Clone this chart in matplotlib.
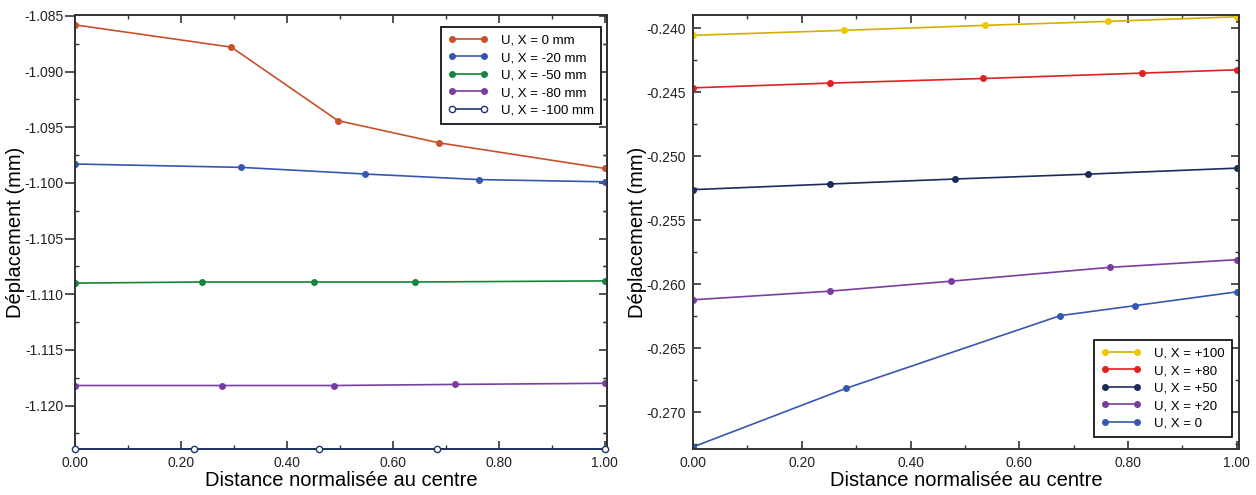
import numpy as np
import matplotlib
matplotlib.use("Agg")
import matplotlib.pyplot as plt
from matplotlib.ticker import MultipleLocator, FormatStrFormatter

plt.rcParams['font.family'] = ['Liberation Sans', 'DejaVu Sans']

# left panel : U for X <= 0
x_l0 = [0.0, 0.295, 0.496, 0.687, 1.0]
u_l0 = [-1.0858, -1.0878, -1.0944, -1.0964, -1.0987]
x_l20 = [0.0, 0.3125, 0.548, 0.763, 1.0]
u_l20 = [-1.0983, -1.0986, -1.0992, -1.0997, -1.0999]
x_l50 = [0.0, 0.239, 0.451, 0.642, 1.0]
u_l50 = [-1.1090, -1.1089, -1.1089, -1.1089, -1.1088]
x_l80 = [0.0, 0.277, 0.489, 0.718, 1.0]
u_l80 = [-1.1182, -1.1182, -1.1182, -1.1181, -1.1180]
x_l100 = [0.0, 0.224, 0.46, 0.683, 1.0]
u_l100 = [-1.1239, -1.1239, -1.1239, -1.1239, -1.1239]

# right panel : U for X >= 0
x_r100 = [0.0, 0.278, 0.537, 0.763, 1.0]
u_r100 = [-0.24057, -0.24018, -0.23979, -0.23948, -0.23912]
x_r80 = [0.0, 0.251, 0.534, 0.825, 1.0]
u_r80 = [-0.24467, -0.24430, -0.24394, -0.24352, -0.24326]
x_r50 = [0.0, 0.252, 0.481, 0.726, 1.0]
u_r50 = [-0.25262, -0.25218, -0.25179, -0.25141, -0.25094]
x_r20 = [0.0, 0.251, 0.474, 0.766, 1.0]
u_r20 = [-0.26122, -0.26055, -0.25977, -0.25869, -0.25809]
x_r0 = [0.0, 0.281, 0.675, 0.812, 1.0]
u_r0 = [-0.27271, -0.26814, -0.26246, -0.26168, -0.26060]

fig = plt.figure(figsize=(12.56, 4.95), dpi=100)
ax1 = fig.add_axes([0.0597, 0.093, 0.4236, 0.877])
ax2 = fig.add_axes([0.5518, 0.093, 0.4347, 0.877])

def style(ax, ylabelpad):
    for s in ax.spines.values():
        s.set_linewidth(1.4)
        s.set_color('#333333')
    ax.tick_params(which='both', direction='in', top=True, right=True, labelsize=10, colors='#333333', labelcolor='#222222')
    ax.tick_params(which='major', length=6, width=1.2, pad=5)
    ax.tick_params(which='minor', length=3, width=1.0)
    ax.xaxis.set_major_locator(MultipleLocator(0.2))
    ax.xaxis.set_minor_locator(MultipleLocator(0.1))
    ax.xaxis.set_major_formatter(FormatStrFormatter('%.2f'))
    ax.yaxis.set_major_locator(MultipleLocator(0.005))
    ax.yaxis.set_minor_locator(MultipleLocator(0.0025))
    ax.yaxis.set_major_formatter(FormatStrFormatter('%.3f'))
    ax.set_xlabel('Distance normalisée au centre', fontsize=14.5, labelpad=1)
    ax.set_ylabel('Déplacement (mm)', fontsize=14.5, labelpad=ylabelpad)

def legend(ax, loc, anchor):
    leg = ax.legend(loc=loc, bbox_to_anchor=anchor, fontsize=9.5, fancybox=False,
                    edgecolor='black', framealpha=1, numpoints=2, handlelength=3.0,
                    labelspacing=0.4, borderpad=0.55, handletextpad=1.0, borderaxespad=0)
    leg.get_frame().set_linewidth(1.2)

kw = dict(lw=1.2, marker='o', markersize=4)
ax1.plot(x_l0, u_l0, color='#c8502a', label='U, X = 0 mm', **kw)
ax1.plot(x_l20, u_l20, color='#3557b0', label='U, X = -20 mm', **kw)
ax1.plot(x_l50, u_l50, color='#14853a', label='U, X = -50 mm', **kw)
ax1.plot(x_l80, u_l80, color='#7a3ea0', label='U, X = -80 mm', **kw)
ax1.plot(x_l100, u_l100, color='#1c3470', label='U, X = -100 mm', mfc='white', mec='#1c3470',
         lw=1.2, marker='o', markersize=4.5, clip_on=False, zorder=5)
ax1.set_xlim(0, 1.004)
ax1.set_ylim(-1.1239, -1.0849)
style(ax1, 0)
# left panel: major y ticks point outward on the left side only
ax1.tick_params(axis='y', which='major', direction='out', right=False, length=7, pad=1)
sec = ax1.secondary_yaxis('right')
sec.yaxis.set_major_locator(MultipleLocator(0.005))
sec.yaxis.set_minor_locator(MultipleLocator(0.0025))
sec.tick_params(which='both', direction='in', labelright=False, colors='#333333')
sec.tick_params(which='major', length=6, width=1.2)
sec.tick_params(which='minor', length=3, width=1.0)
sec.spines['right'].set_linewidth(1.4)
sec.spines['right'].set_color('#333333')
legend(ax1, 'upper right', (0.989, 0.972))

ax2.plot(x_r100, u_r100, color='#d4b000', mfc='#f0c800', mec='#f0c800', label='U, X = +100', **kw)
ax2.plot(x_r80, u_r80, color='#e02020', label='U, X = +80', **kw)
ax2.plot(x_r50, u_r50, color='#1a2c5c', label='U, X = +50', **kw)
ax2.plot(x_r20, u_r20, color='#7a3ea0', label='U, X = +20', **kw)
ax2.plot(x_r0, u_r0, color='#3557b0', label='U, X = 0', **kw)
ax2.set_xlim(0, 1.004)
ax2.set_ylim(-0.27287, -0.23897)
style(ax2, 0)
legend(ax2, 'lower right', (0.987, 0.028))

fig.savefig('out.png', dpi=100)
